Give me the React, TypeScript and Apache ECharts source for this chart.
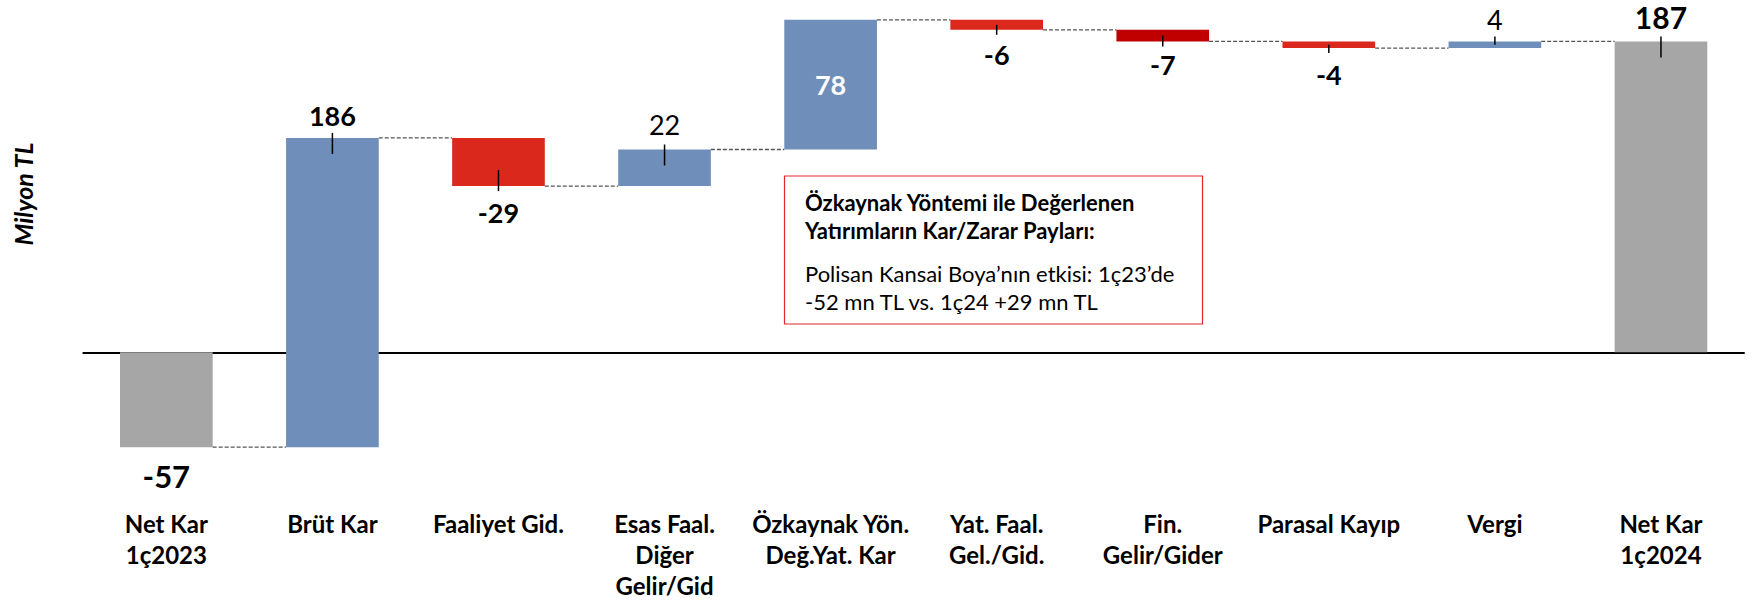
import React, { useEffect, useRef } from "react";
import * as echarts from "echarts";

const categories = [
  "Net Kar\n1ç2023",
  "Brüt Kar",
  "Faaliyet Gid.",
  "Esas Faal.\nDiğer\nGelir/Gid",
  "Özkaynak Yön.\nDeğ.Yat. Kar",
  "Yat. Faal.\nGel./Gid.",
  "Fin.\nGelir/Gider",
  "Parasal Kayıp",
  "Vergi",
  "Net Kar\n1ç2024",
];
const values = [-57, 186, -29, 22, 78, -6, -7, -4, 4, 187];
const isTotal = [true, false, false, false, false, false, false, false, false, true];
const valueLabels = ["-57", "186", "-29", "22", "78", "-6", "-7", "-4", "4", "187"];
const yAxisTitle = "Milyon TL";
const noteTitle = ["Özkaynak Yöntemi ile Değerlenen", "Yatırımların Kar/Zarar Payları:"];
const noteBody = ["Polisan Kansai Boya’nın etkisi: 1ç23’de", "-52 mn TL vs. 1ç24 +29 mn TL"];

// styles (kept separate from data)
const BLUE = "#6F8EBA";
const RED = "#DA291C";
const DARK_RED = "#C00000";
const GRAY = "#A6A6A6";
const barColors = [GRAY, BLUE, RED, BLUE, BLUE, RED, DARK_RED, RED, BLUE, GRAY];
type LS = { size: number; bold: boolean; inside?: boolean; offset: number; tick: boolean };
const labelStyles: LS[] = [
  { size: 31, bold: true, offset: 29, tick: false },
  { size: 27, bold: true, offset: 22, tick: true },
  { size: 27, bold: true, offset: 26, tick: true },
  { size: 27, bold: false, offset: 25, tick: true },
  { size: 27, bold: true, inside: true, offset: 0, tick: false },
  { size: 27, bold: true, offset: 25, tick: true },
  { size: 27, bold: true, offset: 23, tick: true },
  { size: 27, bold: true, offset: 26, tick: true },
  { size: 27, bold: false, offset: 22, tick: true },
  { size: 30, bold: true, offset: 24, tick: true },
];
const FONT = "Lato, 'Noto Sans', sans-serif";

export default function App() {
  const ref = useRef<HTMLDivElement>(null);
  useEffect(() => {
    document.body.style.margin = "0";
    if (!ref.current) return;
    const chart = echarts.init(ref.current, null, { renderer: "svg" });

    // waterfall ranges
    let running = 0;
    const data = values.map((v, i) => {
      let s: number, e: number;
      if (isTotal[i]) {
        s = 0;
        e = v;
      } else {
        s = running;
        e = running + v;
      }
      running = e;
      return [i, s, e, v];
    });

    const renderItem = (params: any, api: any) => {
      const i = api.value(0);
      const s = api.value(1);
      const e = api.value(2);
      const v = api.value(3);
      const p0 = api.coord([i, s]);
      const p1 = api.coord([i, e]);
      const band = api.size([1, 0])[0];
      const w = band * 0.558;
      const x = p0[0] - w / 2;
      const top = Math.min(p0[1], p1[1]);
      const h = Math.abs(p0[1] - p1[1]);
      const endY = p1[1];
      const up = v >= 0;
      const st = labelStyles[i];
      const children: any[] = [
        {
          type: "rect",
          shape: { x, y: top, width: w, height: h },
          style: { fill: barColors[i] },
        },
      ];
      if (st.tick) {
        const into = Math.min(16, h * 0.5);
        const y1 = up ? endY - 5 : endY - into;
        const y2 = up ? endY + into : endY + 5;
        children.push({
          type: "line",
          shape: { x1: p0[0], y1, x2: p0[0], y2 },
          style: { stroke: "#000", lineWidth: 1.5 },
        });
      }
      const ly = st.inside ? (p0[1] + p1[1]) / 2 : up ? endY - st.offset : endY + st.offset;
      children.push({
        type: "text",
        style: {
          x: p0[0],
          y: ly,
          text: valueLabels[i],
          fill: st.inside ? "#fff" : "#000",
          font: `${st.bold ? "bold " : ""}${st.size}px ${FONT}`,
          lineHeight: st.size,
          align: "center",
          verticalAlign: "middle",
        },
      });
      if (i < values.length - 1) {
        const nx = api.coord([i + 1, e])[0] - w / 2;
        children.push({
          type: "line",
          shape: { x1: x + w, y1: endY, x2: nx, y2: endY },
          style: { stroke: "#555", lineWidth: 1.3, lineDash: [4, 2] },
        });
      }
      return { type: "group", children };
    };

    chart.setOption({
      animation: false,
      grid: { left: 83.3, right: 8, top: 3.2, bottom: 97.7, containLabel: false },
      xAxis: [
        {
          type: "category",
          data: categories,
          position: "bottom",
          axisLine: { show: true, onZero: true, lineStyle: { color: "#000", width: 2 } },
          axisTick: { show: false },
          axisLabel: { show: false },
          splitLine: { show: false },
        },
        {
          type: "category",
          data: categories,
          position: "bottom",
          axisLine: { show: false, onZero: false },
          axisTick: { show: false },
          axisLabel: {
            show: true,
            interval: 0,
            margin: 6,
            color: "#000",
            fontFamily: FONT,
            fontWeight: "bold",
            fontSize: 24,
            lineHeight: 31,
          },
        },
      ],
      yAxis: {
        type: "value",
        min: -90,
        max: 210,
        show: true,
        axisLine: { show: false },
        axisTick: { show: false },
        axisLabel: { show: false },
        splitLine: { show: false },
      },
      series: [
        {
          type: "custom",
          xAxisIndex: 0,
          renderItem,
          data,
          clip: false,
          z: 3,
        },
      ],
      graphic: [
        {
          type: "text",
          x: 23,
          y: 194,
          rotation: Math.PI / 2,
          style: {
            text: yAxisTitle,
            font: `italic bold 25px ${FONT}`,
            fill: "#000",
            align: "center",
            verticalAlign: "middle",
          },
        },
        {
          type: "rect",
          shape: { x: 784.5, y: 176, width: 418, height: 148 },
          style: { fill: "#fff", stroke: "#E3262B", lineWidth: 1.2 },
          z: 10,
        },
        ...noteTitle.map((t, k) => ({
          type: "text",
          x: 805,
          y: 202.7 + k * 27.3,
          z: 11,
          style: {
            text: t,
            font: `bold 22px ${FONT}`,
            fill: "#000",
            align: "left",
            verticalAlign: "middle",
          },
        })),
        ...noteBody.map((t, k) => ({
          type: "text",
          x: 805,
          y: 273.3 + k * 28.4,
          z: 11,
          style: {
            text: t,
            font: `22px ${FONT}`,
            fill: "#000",
            align: "left",
            verticalAlign: "middle",
          },
        })),
      ],
    });
    return () => chart.dispose();
  }, []);
  return <div ref={ref} style={{ width: 1752, height: 601 }} />;
}
